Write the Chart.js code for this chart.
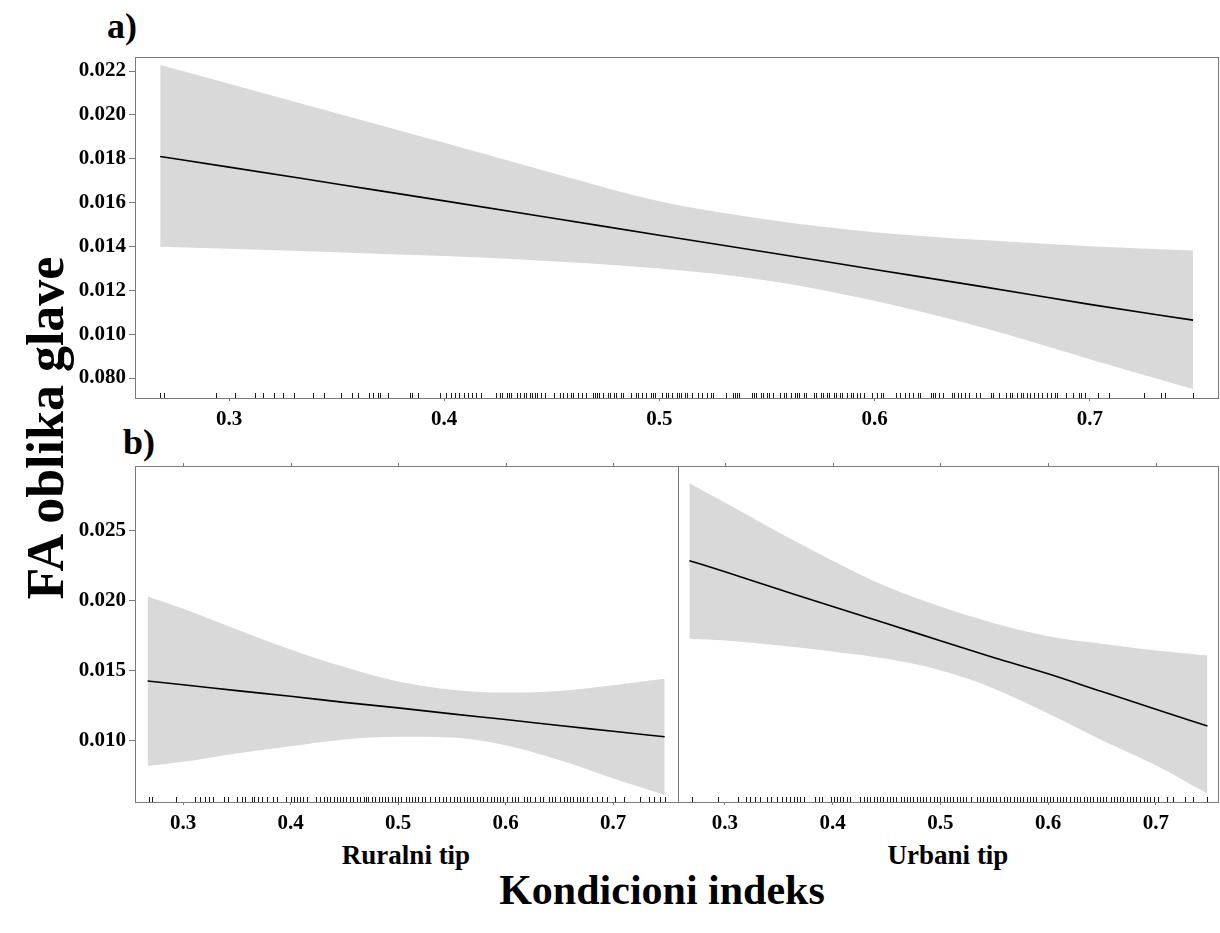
<!DOCTYPE html>
<html>
<head>
<meta charset="utf-8">
<script src="https://cdn.jsdelivr.net/npm/chart.js@4.4.0/dist/chart.umd.min.js"></script>
<style>
  body { margin: 0; background: #fff; width: 1220px; height: 933px; position: relative; overflow: hidden; }
  canvas { position: absolute; }
  .lbl { position: absolute; white-space: nowrap; color: #000; line-height: 1;
         font-family: 'Liberation Serif', 'Times New Roman', serif; font-weight: bold; }
</style>
</head>
<body>
<div class="lbl" style="left:107px; top:8px; font-size:36px;">a)</div>
<div class="lbl" style="left:123px; top:424px; font-size:36px;">b)</div>
<div class="lbl" style="left:46px; top:428px; font-size:52px; transform: translate(-50%, -50%) rotate(-90deg);">FA oblika glave</div>
<div class="lbl" style="left:406px; top:855px; font-size:27px; transform: translate(-50%, -50%);">Ruralni tip</div>
<div class="lbl" style="left:948px; top:855px; font-size:27px; transform: translate(-50%, -50%);">Urbani tip</div>
<div class="lbl" style="left:662px; top:890px; font-size:42px; transform: translate(-50%, -50%);">Kondicioni indeks</div>

<canvas id="chartA" width="1220" height="445" style="left:0; top:0;"></canvas>
<canvas id="chartRural" width="680" height="400" style="left:0; top:440px;"></canvas>
<canvas id="chartUrban" width="544" height="400" style="left:676px; top:440px;"></canvas>

<script>
// x ticks shared by all panels
const xTicks = [0.3, 0.4, 0.5, 0.6, 0.7];
const xTickLabels = ['0.3', '0.4', '0.5', '0.6', '0.7'];

// panel a) - all data
const yTicksA = [0.008, 0.010, 0.012, 0.014, 0.016, 0.018, 0.020, 0.022];
const yTickLabelsA = ['0.080', '0.010', '0.012', '0.014', '0.016', '0.018', '0.020', '0.022'];
const xA = [0.268, 0.30, 0.35, 0.40, 0.45, 0.50, 0.55, 0.60, 0.65, 0.70, 0.748];
const fitA = [0.01810, 0.01762, 0.01685, 0.01608, 0.01530, 0.01451, 0.01374, 0.01295, 0.01217, 0.01136, 0.01064];
const upperA = [0.02227, 0.02142, 0.02008, 0.01873, 0.01736, 0.01606, 0.01523, 0.01465, 0.01429, 0.01401, 0.01382];
const lowerA = [0.01399, 0.01390, 0.01374, 0.01356, 0.01333, 0.01299, 0.01245, 0.01152, 0.01030, 0.00886, 0.00750];
const rugA = [0.268, 0.270, 0.294, 0.303, 0.312, 0.316, 0.321, 0.325, 0.330, 0.339, 0.344, 0.352, 0.357, 0.360,
  0.365, 0.367, 0.369, 0.370, 0.374, 0.384, 0.385, 0.388, 0.398, 0.401, 0.403, 0.405, 0.407, 0.409, 0.411,
  0.413, 0.415, 0.417, 0.424, 0.426, 0.427, 0.429, 0.430, 0.431, 0.434, 0.435, 0.437, 0.438, 0.440, 0.441,
  0.442, 0.443, 0.445, 0.447, 0.451, 0.454, 0.455, 0.455, 0.457, 0.459, 0.460, 0.462, 0.464, 0.466, 0.469,
  0.470, 0.471, 0.472, 0.474, 0.476, 0.477, 0.479, 0.480, 0.482, 0.483, 0.487, 0.489, 0.490, 0.492, 0.494,
  0.496, 0.497, 0.498, 0.501, 0.503, 0.504, 0.506, 0.508, 0.509, 0.510, 0.512, 0.513, 0.515, 0.518, 0.520,
  0.522, 0.524, 0.525, 0.531, 0.534, 0.535, 0.536, 0.537, 0.543, 0.544, 0.545, 0.547, 0.548, 0.550, 0.551,
  0.553, 0.556, 0.558, 0.559, 0.561, 0.563, 0.564, 0.565, 0.567, 0.568, 0.572, 0.573, 0.575, 0.576, 0.578,
  0.579, 0.581, 0.582, 0.584, 0.585, 0.587, 0.589, 0.590, 0.592, 0.593, 0.595, 0.599, 0.601, 0.603, 0.604,
  0.610, 0.612, 0.614, 0.616, 0.618, 0.620, 0.621, 0.626, 0.627, 0.628, 0.630, 0.632, 0.636, 0.637, 0.639,
  0.640, 0.642, 0.644, 0.647, 0.649, 0.654, 0.655, 0.658, 0.661, 0.663, 0.664, 0.666, 0.668, 0.668, 0.669,
  0.671, 0.672, 0.674, 0.676, 0.678, 0.680, 0.682, 0.684, 0.685, 0.689, 0.692, 0.695, 0.696, 0.698, 0.704,
  0.709, 0.725, 0.733, 0.735, 0.748];

// panel b) - rural
const yTicksB = [0.010, 0.015, 0.020, 0.025];
const yTickLabelsB = ['0.010', '0.015', '0.020', '0.025'];
const xB = [0.267, 0.30, 0.35, 0.40, 0.45, 0.50, 0.55, 0.60, 0.65, 0.70, 0.748];
const fitRural = [0.01424, 0.01397, 0.01355, 0.01314, 0.01271, 0.01231, 0.01188, 0.01148, 0.01105, 0.01064, 0.01024];
const upperRural = [0.02029, 0.01941, 0.01793, 0.01650, 0.01524, 0.01421, 0.01362, 0.01341, 0.01352, 0.01393, 0.01440];
const lowerRural = [0.00814, 0.00845, 0.00905, 0.00957, 0.01005, 0.01024, 0.01019, 0.00964, 0.00857, 0.00726, 0.00607];
const rugRural = [0.268, 0.271, 0.293, 0.311, 0.316, 0.320, 0.324, 0.328, 0.338, 0.342, 0.350, 0.355, 0.358,
  0.364, 0.366, 0.370, 0.373, 0.378, 0.384, 0.387, 0.396, 0.400, 0.403, 0.406, 0.409, 0.412, 0.415, 0.424,
  0.427, 0.431, 0.434, 0.437, 0.440, 0.443, 0.446, 0.449, 0.452, 0.455, 0.458, 0.462, 0.465, 0.468, 0.470,
  0.472, 0.476, 0.479, 0.482, 0.485, 0.488, 0.491, 0.494, 0.497, 0.500, 0.503, 0.507, 0.510, 0.513, 0.516,
  0.519, 0.522, 0.525, 0.530, 0.534, 0.538, 0.542, 0.545, 0.548, 0.552, 0.555, 0.558, 0.561, 0.564, 0.567,
  0.570, 0.573, 0.576, 0.579, 0.583, 0.586, 0.589, 0.592, 0.595, 0.598, 0.601, 0.606, 0.609, 0.612, 0.617,
  0.620, 0.623, 0.627, 0.632, 0.635, 0.640, 0.643, 0.646, 0.651, 0.654, 0.657, 0.660, 0.663, 0.666, 0.669,
  0.672, 0.676, 0.680, 0.685, 0.690, 0.694, 0.702, 0.710, 0.725, 0.733, 0.738, 0.744, 0.748];

// panel b) - urban
const fitUrban = [0.02286, 0.02206, 0.02081, 0.01957, 0.01836, 0.01712, 0.01591, 0.01476, 0.01348, 0.01221, 0.01102];
const upperUrban = [0.02841, 0.02702, 0.02488, 0.02286, 0.02100, 0.01957, 0.01838, 0.01745, 0.01691, 0.01643, 0.01607];
const lowerUrban = [0.01726, 0.01714, 0.01679, 0.01636, 0.01583, 0.01500, 0.01369, 0.01191, 0.01000, 0.00821, 0.00618];
const rugUrban = [0.269, 0.294, 0.312, 0.320, 0.323, 0.328, 0.333, 0.339, 0.343, 0.348, 0.353, 0.357, 0.360,
  0.364, 0.367, 0.370, 0.373, 0.384, 0.387, 0.390, 0.398, 0.401, 0.404, 0.407, 0.410, 0.413, 0.416, 0.425,
  0.429, 0.432, 0.435, 0.438, 0.441, 0.444, 0.447, 0.450, 0.453, 0.456, 0.459, 0.463, 0.466, 0.469, 0.472,
  0.475, 0.478, 0.481, 0.484, 0.487, 0.490, 0.494, 0.497, 0.500, 0.503, 0.506, 0.509, 0.512, 0.515, 0.518,
  0.521, 0.524, 0.528, 0.534, 0.537, 0.540, 0.543, 0.546, 0.549, 0.552, 0.555, 0.559, 0.562, 0.565, 0.568,
  0.571, 0.574, 0.577, 0.580, 0.583, 0.586, 0.589, 0.593, 0.596, 0.599, 0.602, 0.605, 0.608, 0.611, 0.614,
  0.617, 0.620, 0.624, 0.627, 0.630, 0.633, 0.636, 0.639, 0.642, 0.645, 0.648, 0.651, 0.654, 0.658, 0.661,
  0.664, 0.667, 0.670, 0.673, 0.676, 0.679, 0.682, 0.685, 0.689, 0.692, 0.695, 0.698, 0.702, 0.710, 0.716,
  0.727, 0.735, 0.748];

const tickFont = { family: "'Liberation Serif', 'Times New Roman', serif", weight: 'bold', size: 21 };
const frameColor = '#7a7a7a';

// small rug of observations along the bottom of a panel
const rugPlugin = {
  id: 'rug',
  afterDatasetsDraw(chart, args, opts) {
    const { ctx, chartArea, scales } = chart;
    ctx.save();
    ctx.strokeStyle = '#1a1a1a';
    ctx.lineWidth = 1;
    ctx.beginPath();
    opts.values.forEach(v => {
      const px = Math.round(scales.x.getPixelForValue(v)) + 0.5;
      ctx.moveTo(px, chartArea.bottom);
      ctx.lineTo(px, chartArea.bottom - opts.length);
    });
    ctx.stroke();
    ctx.restore();
  }
};

// box around the plotting region (+ tiny ticks on top for lattice panels)
const framePlugin = {
  id: 'frame',
  afterDraw(chart, args, opts) {
    const { ctx, chartArea: a, scales } = chart;
    ctx.save();
    ctx.strokeStyle = frameColor;
    ctx.lineWidth = 1;
    ctx.strokeRect(Math.round(a.left) + 0.5, Math.round(a.top) + 0.5,
      Math.round(a.right - a.left), Math.round(a.bottom - a.top));
    if (opts.topTicks) {
      ctx.beginPath();
      xTicks.forEach(v => {
        const px = Math.round(scales.x.getPixelForValue(v)) + 0.5;
        ctx.moveTo(px, a.top);
        ctx.lineTo(px, a.top - 3);
      });
      ctx.stroke();
    }
    ctx.restore();
  }
};

function bandDatasets(xs, fit, lower, upper) {
  const pts = arr => xs.map((x, i) => ({ x, y: arr[i] }));
  return [
    { data: pts(upper), borderColor: 'rgba(0,0,0,0)', borderWidth: 0, pointRadius: 0, order: 2,
      fill: '+1', backgroundColor: '#d9d9d9', cubicInterpolationMode: 'monotone' },
    { data: pts(lower), borderColor: 'rgba(0,0,0,0)', borderWidth: 0, pointRadius: 0, order: 1,
      fill: false, cubicInterpolationMode: 'monotone' },
    { data: pts(fit), borderColor: '#000', borderWidth: 1.6, pointRadius: 0, order: 0,
      fill: false, cubicInterpolationMode: 'monotone' }
  ];
}

function makePanel(id, cfg) {
  const ctx = document.getElementById(id).getContext('2d');
  return new Chart(ctx, {
    type: 'line',
    data: { datasets: bandDatasets(cfg.xs, cfg.fit, cfg.lower, cfg.upper) },
    plugins: [rugPlugin, framePlugin],
    options: {
      responsive: false,
      animation: false,
      devicePixelRatio: 1,
      layout: { padding: cfg.padding },
      plugins: {
        legend: { display: false },
        tooltip: { enabled: false },
        rug: { values: cfg.rug, length: 5 },
        frame: { topTicks: cfg.topTicks }
      },
      scales: {
        x: {
          type: 'linear',
          min: cfg.xMin, max: cfg.xMax,
          afterBuildTicks: s => { s.ticks = xTicks.map(v => ({ value: v })); },
          afterFit: s => { s.height = cfg.xHeight; },
          ticks: { font: tickFont, color: '#000', padding: 6, maxRotation: 0,
                   callback: (v, i) => xTickLabels[i] },
          grid: { display: true, drawOnChartArea: false, drawTicks: true, tickLength: 3, color: frameColor },
          border: { display: false }
        },
        y: {
          display: cfg.showY,
          min: cfg.yMin, max: cfg.yMax,
          afterBuildTicks: s => { s.ticks = cfg.yTicks.map(v => ({ value: v })); },
          afterFit: s => { s.width = cfg.yWidth; },
          ticks: { font: tickFont, color: '#000', padding: 3,
                   callback: (v, i) => cfg.yLabels[i] },
          grid: { display: true, drawOnChartArea: false, drawTicks: true, tickLength: 6, color: frameColor },
          border: { display: false }
        }
      }
    }
  });
}

makePanel('chartA', {
  xs: xA, fit: fitA, lower: lowerA, upper: upperA, rug: rugA,
  xMin: 0.2563, xMax: 0.7596, yMin: 0.00709, yMax: 0.02264,
  yTicks: yTicksA, yLabels: yTickLabelsA, showY: true,
  padding: { top: 57, right: 2, left: 0, bottom: 0 }, yWidth: 135, xHeight: 47, topTicks: false
});

makePanel('chartRural', {
  xs: xB, fit: fitRural, lower: lowerRural, upper: upperRural, rug: rugRural,
  xMin: 0.2553, xMax: 0.7604, yMin: 0.00557, yMax: 0.02964,
  yTicks: yTicksB, yLabels: yTickLabelsB, showY: true,
  padding: { top: 26, right: 2, left: 0, bottom: 0 }, yWidth: 135, xHeight: 38, topTicks: true
});

makePanel('chartUrban', {
  xs: xB, fit: fitUrban, lower: lowerUrban, upper: upperUrban, rug: rugUrban,
  xMin: 0.2564, xMax: 0.7578, yMin: 0.00557, yMax: 0.02964,
  yTicks: yTicksB, yLabels: yTickLabelsB, showY: false,
  padding: { top: 26, right: 2, left: 2, bottom: 0 }, yWidth: 0, xHeight: 38, topTicks: true
});
</script>
</body>
</html>
